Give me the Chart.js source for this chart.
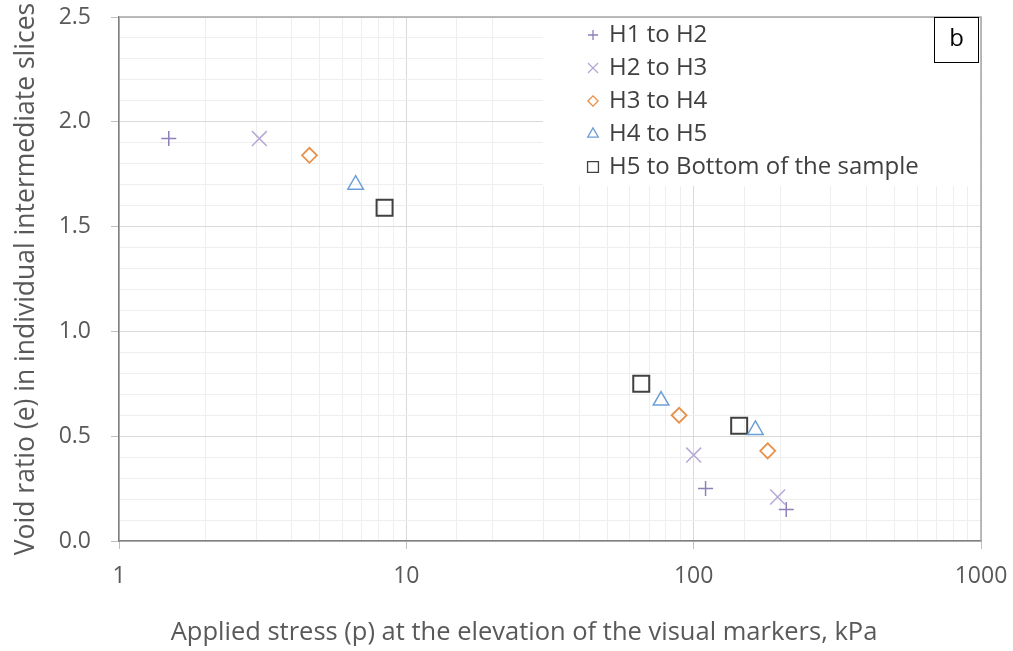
<!DOCTYPE html>
<html>
<head>
<meta charset="utf-8">
<script src="https://cdn.jsdelivr.net/npm/chart.js@4/dist/chart.umd.min.js"></script>
<style>
  body { margin: 0; background: #fff; }
  #box { width: 1013px; height: 651px; position: relative; }
</style>
</head>
<body>
<div id="box"><canvas id="grafico"></canvas></div>
<script>
// data (stress in kPa, void ratio e)
const series = ["H1 to H2", "H2 to H3", "H3 to H4", "H4 to H5", "H5 to Bottom of the sample"];
const stressH1H2 = [1.49, 110, 210];
const voidH1H2 = [1.92, 0.25, 0.15];
const stressH2H3 = [3.08, 100, 196];
const voidH2H3 = [1.92, 0.41, 0.21];
const stressH3H4 = [4.6, 89, 181];
const voidH3H4 = [1.84, 0.60, 0.43];
const stressH4H5 = [6.66, 77, 164];
const voidH4H5 = [1.70, 0.67, 0.53];
const stressH5Bot = [8.4, 65.7, 144];
const voidH5Bot = [1.59, 0.75, 0.55];
const xTicks = [1, 10, 100, 1000];
const yTicks = [0.0, 0.5, 1.0, 1.5, 2.0, 2.5];
const tituloX = 'Applied stress (p) at the elevation of the visual markers, kPa';
const tituloY = 'Void ratio (e) in individual intermediate slices';

const fonte = '"Open Sans"';
const corTexto = '#595959';

function pontos(xs, ys) {
    return xs.map((x, i) => ({ x: x, y: ys[i] }));
}

const estilos = [
    { cor: '#8f80b8', forma: 'cross', raio: 7.5, larg: 1.5 },
    { cor: '#b5a9d4', forma: 'crossRot', raio: 10.5, larg: 1.5 },
    { cor: '#e8904a', forma: 'rectRot', raio: 7.5, larg: 1.8 },
    { cor: '#6d9fd6', forma: 'triangle', raio: 9, larg: 1.5 },
    { cor: '#404040', forma: 'rect', raio: 11.3, larg: 2 }
];
const dadosX = [stressH1H2, stressH2H3, stressH3H4, stressH4H5, stressH5Bot];
const dadosY = [voidH1H2, voidH2H3, voidH3H4, voidH4H5, voidH5Bot];

const datasets = series.map((nome, i) => ({
    label: nome,
    data: pontos(dadosX[i], dadosY[i]),
    pointStyle: estilos[i].forma,
    pointRadius: estilos[i].raio,
    pointHoverRadius: estilos[i].raio,
    borderColor: estilos[i].cor,
    backgroundColor: 'rgba(0,0,0,0)',
    pointBorderWidth: estilos[i].larg,
    showLine: false
}));

// white legend box inside the plot, the "b" panel tag, the frame and the x title
const legendaInterna = {
    id: 'legendaInterna',
    beforeDatasetsDraw(chart) {
        const c = chart.ctx, a = chart.chartArea;
        c.save();
        c.fillStyle = '#fff';
        c.fillRect(543, a.top + 1, a.right - 1 - 543, 185 - a.top);
        c.restore();
    },
    afterDraw(chart) {
        const c = chart.ctx, a = chart.chartArea;
        c.save();
        // top and right frame
        c.strokeStyle = '#a6a6a6';
        c.lineWidth = 1.5;
        c.beginPath();
        c.moveTo(a.left, a.top);
        c.lineTo(a.right, a.top);
        c.lineTo(a.right, a.bottom);
        c.stroke();
        // x axis title (sits left of the plot centre in the original)
        c.font = '25.5px ' + fonte;
        c.fillStyle = corTexto;
        c.textAlign = 'center';
        c.textBaseline = 'middle';
        c.fillText(tituloX, 524, 633);
        // legend entries
        c.font = '24px ' + fonte;
        c.textAlign = 'left';
        chart.data.datasets.forEach((ds, i) => {
            const y = 35 + i * 33;
            c.strokeStyle = ds.borderColor;
            c.fillStyle = 'rgba(0,0,0,0)';
            c.lineWidth = 1.3;
            Chart.helpers.drawPoint(c, { pointStyle: ds.pointStyle, radius: ds.pointRadius * 0.68, rotation: 0, borderWidth: 1.3 }, 593, y);
            c.fillStyle = '#404040';
            c.fillText(ds.label, 609, y);
        });
        // panel tag "b"
        c.strokeStyle = '#000';
        c.lineWidth = 1;
        c.fillStyle = '#fff';
        c.fillRect(934.5, 17.5, 44, 45);
        c.strokeRect(934.5, 17.5, 44, 45);
        c.fillStyle = '#000';
        c.textAlign = 'center';
        c.fillText('b', 956.5, 39);
        c.restore();
    }
};

const ctx = document.getElementById('grafico').getContext('2d');

let grafico = new Chart(ctx, {
    type: 'scatter',
    data: { datasets: datasets },
    options: {
        responsive: true,
        maintainAspectRatio: false,
        animation: false,
        layout: { padding: { top: 17, right: 32, left: 0, bottom: 0 } },
        plugins: {
            legend: { display: false },
            tooltip: { enabled: false }
        },
        scales: {
            x: {
                type: 'logarithmic',
                min: xTicks[0],
                max: xTicks[xTicks.length - 1],
                afterFit: (s) => { s.height = 110; s.paddingLeft = 0; s.paddingRight = 0; },
                border: { color: '#7f7f7f', width: 1.5 },
                grid: {
                    color: (c) => xTicks.includes(c.tick && c.tick.value) ? '#d9d9d9' : '#eeeeee',
                    tickColor: (c) => xTicks.includes(c.tick && c.tick.value) ? '#bfbfbf' : 'rgba(0,0,0,0)',
                    tickLength: 8
                },
                ticks: {
                    autoSkip: false,
                    maxRotation: 0,
                    padding: 14,
                    color: corTexto,
                    font: { family: fonte, size: 23 },
                    callback: (v) => xTicks.includes(v) ? String(v) : ''
                },
                title: { display: false }
            },
            y: {
                min: yTicks[0],
                max: yTicks[yTicks.length - 1],
                afterFit: (s) => { s.width = 119; s.paddingTop = 0; s.paddingBottom = 0; },
                border: { color: '#7f7f7f', width: 1.5 },
                grid: {
                    color: (c) => Math.round(c.tick.value * 10) % 5 === 0 ? '#d9d9d9' : '#eeeeee',
                    tickColor: (c) => Math.round(c.tick.value * 10) % 5 === 0 ? '#bfbfbf' : 'rgba(0,0,0,0)',
                    tickLength: 8
                },
                ticks: {
                    stepSize: 0.1,
                    autoSkip: false,
                    padding: 20,
                    color: corTexto,
                    font: { family: fonte, size: 23 },
                    callback: (v) => Math.round(v * 10) % 5 === 0 ? v.toFixed(1) : ''
                },
                title: {
                    display: true,
                    text: tituloY,
                    color: corTexto,
                    font: { family: fonte, size: 26.5 },
                    padding: { top: 11, bottom: 0 }
                }
            }
        }
    },
    plugins: [legendaInterna]
});
</script>
</body>
</html>
